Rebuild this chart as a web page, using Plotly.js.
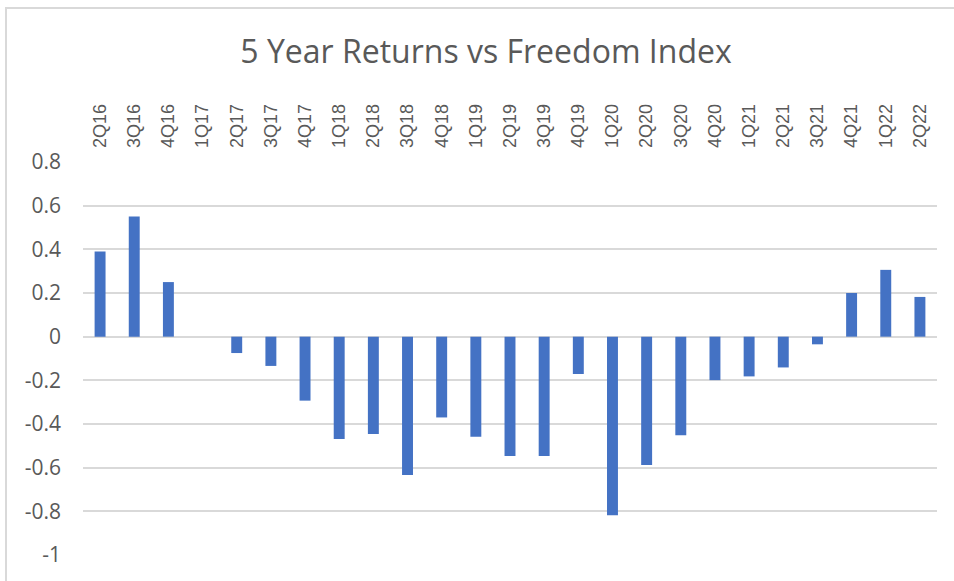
<!DOCTYPE html>
<html>
<head>
<meta charset="utf-8">
<script src="https://cdn.plot.ly/plotly-3.0.1.min.js"></script>
<style>
  html, body { margin: 0; padding: 0; background: #ffffff; overflow: hidden; }
  #wrap { position: relative; width: 954px; height: 581px; }
  #chart { position: absolute; left: 0; top: 0; width: 954px; height: 581px; }
  #frame { position: absolute; left: 5px; top: 7px; width: 1000px; height: 600px;
           border-left: 2px solid #d9d9d9; border-top: 2px solid #d9d9d9; pointer-events: none; }
</style>
</head>
<body>
<div id="wrap">
  <div id="chart"></div>
  <div id="frame"></div>
</div>
<script>
const quarters = ["2Q16","3Q16","4Q16","1Q17","2Q17","3Q17","4Q17","1Q18","2Q18","3Q18","4Q18",
                  "1Q19","2Q19","3Q19","4Q19","1Q20","2Q20","3Q20","4Q20","1Q21","2Q21","3Q21",
                  "4Q21","1Q22","2Q22"];
const returnsVsFreedom = [0.39, 0.55, 0.25, 0, -0.075, -0.134, -0.293, -0.469, -0.446, -0.634, -0.37,
                          -0.458, -0.546, -0.546, -0.171, -0.818, -0.588, -0.452, -0.199, -0.182, -0.141, -0.035,
                          0.2, 0.306, 0.182];
const yTickValues = [0.8, 0.6, 0.4, 0.2, 0, -0.2, -0.4, -0.6, -0.8, -1];
const yTickLabels = ["0.8", "0.6", "0.4", "0.2", "0", "-0.2", "-0.4", "-0.6", "-0.8", "-1"];
const chartTitle = "5 Year Returns vs Freedom Index";

const trace = {
  type: "bar",
  x: quarters,
  y: returnsVsFreedom,
  marker: { color: "#4472c4" },
  hoverinfo: "x+y"
};

const layout = {
  width: 954,
  height: 581,
  margin: { l: 83, r: 17, t: 162, b: 26, pad: 0 },
  paper_bgcolor: "#ffffff",
  plot_bgcolor: "#ffffff",
  bargap: 0.68,
  showlegend: false,
  title: {
    text: chartTitle,
    font: { family: "Open Sans, sans-serif", size: 32, color: "#595959" },
    x: 486 / 954, xanchor: "center", xref: "container",
    y: 1 - 52 / 581, yanchor: "middle", yref: "container"
  },
  xaxis: {
    type: "category",
    side: "top",
    tickangle: -90,
    showgrid: false,
    showline: false,
    zeroline: false,
    ticks: "",
    ticklabelstandoff: 13,
    tickfont: { family: "Liberation Sans, Arial, sans-serif", size: 18, color: "#595959" }
  },
  yaxis: {
    range: [-1, 0.8],
    tickvals: yTickValues,
    ticktext: yTickLabels,
    showgrid: true,
    gridcolor: "#d9d9d9",
    gridwidth: 2,
    zeroline: true,
    zerolinecolor: "#d9d9d9",
    zerolinewidth: 2,
    showline: false,
    ticks: "",
    ticklabelstandoff: 21,
    tickfont: { family: "Open Sans, sans-serif", size: 21, color: "#595959" }
  }
};

Plotly.newPlot("chart", [trace], layout, { displayModeBar: false, staticPlot: true });
</script>
</body>
</html>
